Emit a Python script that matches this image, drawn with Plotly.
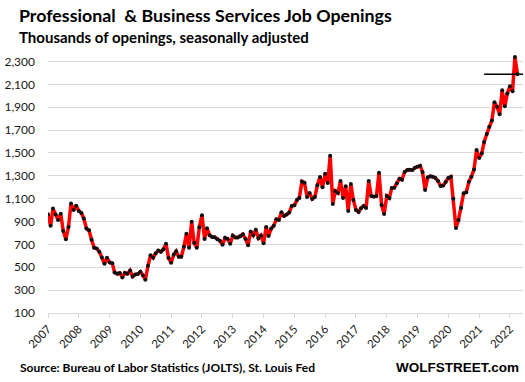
import pandas as pd
import plotly.graph_objects as go

title = "Professional  &amp; Business Services Job Openings"
subtitle = "Thousands of openings, seasonally adjusted"
source = "Source: Bureau of Labor Statistics (JOLTS), St. Louis Fed"
brand = "WOLFSTREET.com"

start_month = "2007-01-01"
openings = [
    963, 862, 1013, 961, 914, 969, 818, 745, 853, 1057, 1001, 1039,
    993, 975, 926, 838, 824, 740, 670, 664, 635, 585, 530, 583,
    542, 536, 455, 443, 449, 411, 452, 443, 472, 420, 437, 440,
    460, 428, 391, 513, 606, 583, 623, 646, 635, 658, 705, 580,
    539, 612, 641, 591, 591, 679, 792, 670, 897, 713, 670, 850,
    955, 748, 841, 780, 765, 763, 745, 731, 696, 757, 748, 705,
    777, 760, 760, 772, 789, 748, 693, 812, 780, 827, 754, 777,
    710, 853, 774, 838, 862, 920, 914, 981, 949, 961, 978, 1036,
    1042, 1089, 1106, 1251, 1240, 1115, 1150, 1097, 1115, 1217, 1289, 1199,
    1318, 1237, 1476, 1054, 1167, 1150, 1254, 1106, 1208, 993, 1228, 1089,
    1001, 984, 1016, 1036, 1019, 1254, 1124, 1118, 1124, 1327, 1045, 966,
    1123, 1106, 1193, 1196, 1234, 1275, 1266, 1333, 1350, 1353, 1350, 1371,
    1379, 1388, 1333, 1176, 1286, 1295, 1292, 1281, 1254, 1211, 1214, 1246,
    1281, 1292, 1100, 844, 914, 1019, 1147, 1155, 1248, 1292, 1356, 1525,
    1455, 1496, 1595, 1665, 1728, 1784, 1944, 1903, 1839, 2048, 1909, 2019,
    2083, 2040, 2339, 2188,
]
months = pd.date_range(start_month, periods=len(openings), freq="MS")

year_ticks = pd.date_range("2007-01-01", "2022-01-01", freq="YS")
year_labels = [str(d.year) for d in year_ticks]
y_ticks = list(range(100, 2301, 200))
y_labels = [f"{v:,}" for v in y_ticks]

fig = go.Figure()
fig.add_trace(go.Scatter(
    x=months, y=openings, mode="lines+markers",
    line=dict(color="#ff0000", width=3.5),
    marker=dict(color="#111111", size=4),
    hoverinfo="x+y", showlegend=False,
))

x_end = "2022-06-05"
# reference line at latest value
fig.add_shape(type="line", xref="x", yref="y",
              x0=months[-14], x1=x_end, y0=openings[-1], y1=openings[-1],
              line=dict(color="#000000", width=1.5))

fig.update_layout(
    width=525, height=382,
    margin=dict(l=48, r=2, t=50, b=69),
    paper_bgcolor="white", plot_bgcolor="white",
    font=dict(family="Lato, sans-serif", color="#1a1a1a"),
    xaxis=dict(
        range=["2007-01-01", x_end],
        tickvals=year_ticks, ticktext=year_labels,
        tickangle=-45, tickfont=dict(size=11.5, color="#1a1a1a"),
        showgrid=False, showline=True, linecolor="#d9d9d9", linewidth=1,
        ticks="outside", ticklen=4, tickcolor="#d9d9d9",
        zeroline=False,
    ),
    yaxis=dict(
        range=[100, 2400],
        tickvals=y_ticks, ticktext=y_labels,
        tickfont=dict(size=12, color="#1a1a1a"),
        showgrid=True, gridcolor="#d9d9d9", gridwidth=1,
        zeroline=False, showline=False, ticks="",
        ticklabelstandoff=12,
    ),
)

fig.add_annotation(text=f"<b>{title}</b>", xref="paper", yref="paper",
                   x=-0.065, y=1.133, xanchor="left", yanchor="middle",
                   showarrow=False, font=dict(size=17.8, color="#000000", family="Lato"))
fig.add_annotation(text=f"<b>{subtitle}</b>", xref="paper", yref="paper",
                   x=-0.065, y=1.049, xanchor="left", yanchor="middle",
                   showarrow=False, font=dict(size=15, color="#000000", family="Lato"))
fig.add_annotation(text=f"<b>{source}</b>", xref="paper", yref="paper",
                   x=-0.063, y=-0.2075, xanchor="left", yanchor="middle",
                   showarrow=False, font=dict(size=12, color="#000000", family="Lato"))
fig.add_annotation(text=f"<b>{brand}</b>", xref="paper", yref="paper",
                   x=0.996, y=-0.2075, xanchor="right", yanchor="middle",
                   showarrow=False, font=dict(size=13.5, color="#000000", family="Liberation Sans"))

fig.write_html("out.html", config={"displayModeBar": False},
               post_script="document.body.style.margin='0';document.body.style.overflow='hidden';")
